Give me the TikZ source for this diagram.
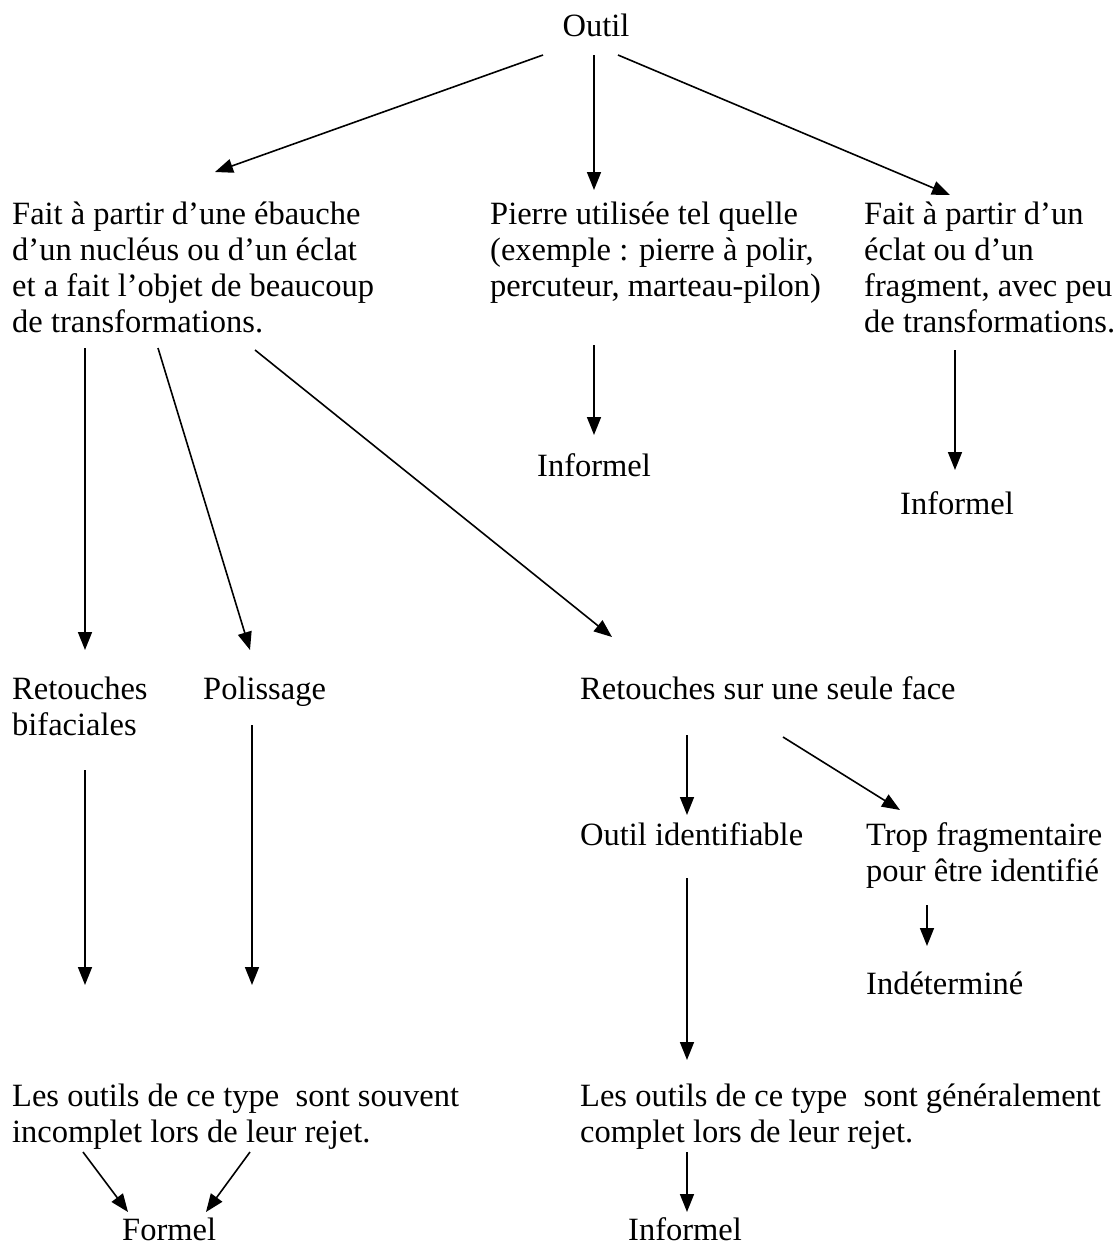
\documentclass[tikz,border=0pt]{standalone}
\usepackage{fontspec}
\setmainfont{Liberation Serif}
\usetikzlibrary{arrows.meta}
\newcommand{\ml}[1]{\begin{tabular}[t]{@{}l@{}}#1\end{tabular}}
\tikzset{
  txt/.style={inner sep=0pt, anchor=base west, font=\fontsize{32.5bp}{36bp}\selectfont},
  arr/.style={line width=1.6bp, -{Triangle[length=18bp,width=14bp]}}
}
\begin{document}
\begin{tikzpicture}[x=1bp,y=-1bp]
\useasboundingbox (0,0) rectangle (1115,1253);
\node[txt, anchor=base] (O) at (596,36) {Outil};
\node[txt] (L) at (12,224) {\ml{Fait à partir d’une ébauche\\d’un nucléus ou d’un éclat\\et a fait l’objet de beaucoup\\de transformations.}};
\node[txt] (M) at (490,224) {\ml{Pierre utilisée tel quelle\\(exemple : pierre à polir,\\percuteur, marteau-pilon)}};
\node[txt] (R) at (864,224) {\ml{Fait à partir d’un\\éclat ou d’un\\fragment, avec peu\\de transformations.}};
\node[txt] (I1) at (537,476) {Informel};
\node[txt] (I2) at (900,514) {Informel};
\node[txt] (RB) at (12,699) {\ml{Retouches\\bifaciales}};
\node[txt] (P) at (203,699) {Polissage};
\node[txt] (RS) at (580,699) {Retouches sur une seule face};
\node[txt] (OI) at (580,845) {Outil identifiable};
\node[txt] (T) at (866,845) {\ml{Trop fragmentaire\\pour être identifié}};
\node[txt] (Ind) at (866,994) {Indéterminé};
\node[txt] (LO1) at (12,1106) {\ml{Les outils de ce type\ \ sont souvent\\incomplet lors de leur rejet.}};
\node[txt] (LO2) at (580,1106) {\ml{Les outils de ce type\ \ sont généralement\\complet lors de leur rejet.}};
\node[txt] (F) at (122,1240) {Formel};
\node[txt] (I3) at (628,1240) {Informel};

\draw[arr] ([shift={(-53,19)}]O.base) -- ([shift={(203,-52)}]L.base west);
\draw[arr] ([shift={(-2,19)}]O.base) -- ([shift={(104,-34)}]M.base west);
\draw[arr] ([shift={(22,19)}]O.base) -- ([shift={(86,-29)}]R.base west);
\draw[arr] ([shift={(104,121)}]M.base west) -- ([shift={(57,-41)}]I1.base west);
\draw[arr] ([shift={(91,126)}]R.base west) -- ([shift={(55,-44)}]I2.base west);
\draw[arr] ([shift={(73,124)}]L.base west) -- ([shift={(73,-49)}]RB.base west);
\draw[arr] ([shift={(146,124)}]L.base west) -- ([shift={(47,-49)}]P.base west);
\draw[arr] ([shift={(243,126)}]L.base west) -- ([shift={(32,-62)}]RS.base west);
\draw[arr] ([shift={(73,71)}]RB.base west) -- ([shift={(73,-121)}]LO1.base west);
\draw[arr] ([shift={(49,26)}]P.base west) -- ([shift={(240,-121)}]LO1.base west);
\draw[arr] ([shift={(107,36)}]RS.base west) -- ([shift={(107,-30)}]OI.base west);
\draw[arr] ([shift={(203,38)}]RS.base west) -- ([shift={(34,-35)}]T.base west);
\draw[arr] ([shift={(61,60)}]T.base west) -- ([shift={(61,-48)}]Ind.base west);
\draw[arr] ([shift={(107,33)}]OI.base west) -- ([shift={(107,-46)}]LO2.base west);
\draw[arr] ([shift={(71,46)}]LO1.base west) -- ([shift={(6,-28)}]F.base west);
\draw[arr] ([shift={(238,46)}]LO1.base west) -- ([shift={(84,-28)}]F.base west);
\draw[arr] ([shift={(107,46)}]LO2.base west) -- ([shift={(59,-28)}]I3.base west);
\end{tikzpicture}
\end{document}
